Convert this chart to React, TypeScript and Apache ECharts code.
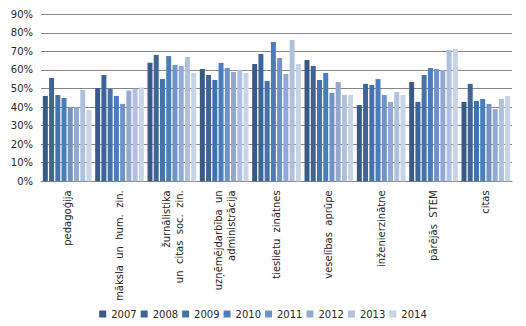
import React, { useEffect, useRef } from "react";
import * as echarts from "echarts";

const categories = [
  "pedagoģija",
  "māksla  un  hum.  zin.",
  "žurnālistika\nun  citas  soc.  zin.",
  "uzņēmējdarbība  un\nadministrācija",
  "tieslietu  zinātnes",
  "veselības  aprūpe",
  "inženierzinātne",
  "pārējās  STEM",
  "citas",
];

const years = ["2007", "2008", "2009", "2010", "2011", "2012", "2013", "2014"];

const colors = ["#3A5A86", "#3E6598", "#4472A9", "#4A7EBB", "#7093C5", "#93A9CF", "#B0C1DE", "#C9D3E6"];

// values in percent, rows = years (2007..2014), columns = categories
const v2007 = [46.0, 50.3, 63.9, 60.5, 63.2, 65.4, 41.1, 53.5, 42.8];
const v2008 = [55.7, 57.3, 68.1, 57.3, 68.6, 62.2, 52.5, 42.8, 52.5];
const v2009 = [46.5, 49.8, 55.1, 54.6, 54.1, 54.6, 51.9, 57.3, 43.3];
const v2010 = [44.9, 46.0, 67.5, 63.8, 75.1, 58.4, 55.1, 61.1, 44.4];
const v2011 = [40.1, 41.7, 62.7, 61.1, 66.5, 47.6, 46.5, 60.5, 41.7];
const v2012 = [39.9, 48.9, 62.2, 58.9, 57.8, 53.5, 42.8, 60.0, 39.0];
const v2013 = [49.2, 49.9, 67.0, 60.0, 76.2, 46.5, 48.1, 70.8, 44.4];
const v2014 = [38.4, 50.5, 58.4, 58.4, 63.2, 46.5, 46.5, 71.3, 46.0];

const seriesValues = [v2007, v2008, v2009, v2010, v2011, v2012, v2013, v2014];

const FONT = "DejaVu Sans";

export default function App() {
  const ref = useRef<HTMLDivElement>(null);

  useEffect(() => {
    if (!ref.current) return;
    const chart = echarts.init(ref.current, null, { renderer: "svg" });
    const catData = categories.map((c) =>
      c.indexOf("\n") >= 0
        ? { value: c, textStyle: { verticalAlign: "top", padding: [-12, 0, 0, 0] } }
        : c
    );
    chart.setOption({
      animation: false,
      backgroundColor: "#ffffff",
      textStyle: { fontFamily: FONT },
      grid: { left: 41, right: 14, top: 14.3, bottom: 144.7, containLabel: false },
      legend: {
        data: years,
        left: "center",
        top: 304,
        itemWidth: 7,
        itemHeight: 7,
        itemGap: 4,
        icon: "rect",
        textStyle: { fontFamily: FONT, fontSize: 10, color: "#262626" },
      },
      xAxis: {
        type: "category",
        data: catData,
        axisLine: { show: true, lineStyle: { color: "#868686", width: 1 } },
        axisTick: { show: false },
        axisLabel: {
          rotate: 90,
          interval: 0,
          margin: 9,
          fontFamily: FONT,
          fontSize: 10,
          color: "#262626",
          lineHeight: 13,
        },
      },
      yAxis: {
        type: "value",
        min: 0,
        max: 90,
        interval: 10,
        axisLine: { show: false },
        axisTick: { show: false },
        axisLabel: {
          formatter: "{value}%",
          fontFamily: FONT,
          fontSize: 10,
          color: "#262626",
          margin: 8,
        },
        splitLine: { lineStyle: { color: "#868686", width: 1 } },
      },
      series: years.map((y, i) => ({
        name: y,
        type: "bar",
        data: seriesValues[i],
        barGap: "25%",
        barCategoryGap: "7%",
        itemStyle: { color: colors[i] },
      })),
    });
    return () => chart.dispose();
  }, []);

  return (
    <div
      ref={ref}
      style={{ position: "fixed", left: 0, top: 0, width: 526, height: 326, background: "#fff" }}
    />
  );
}
